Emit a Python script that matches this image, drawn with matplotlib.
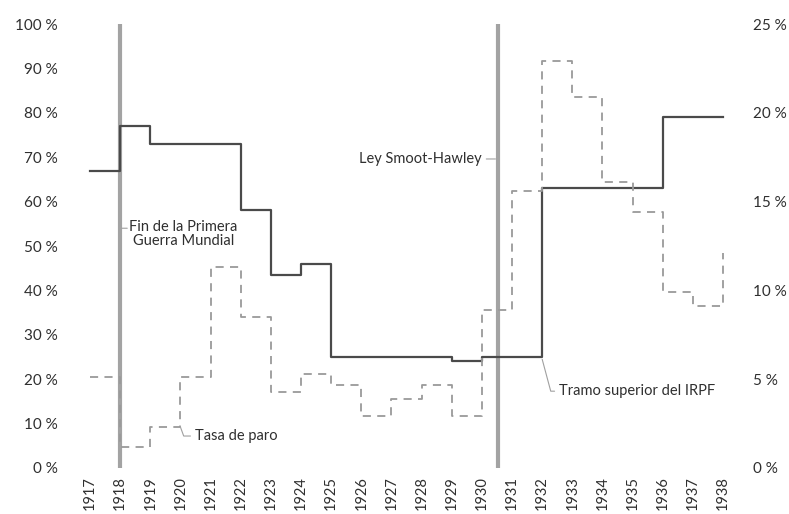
import matplotlib.pyplot as plt

plt.rcParams['font.family'] = ['Lato', 'DejaVu Sans']

years = list(range(1917, 1939))
# tramo superior del IRPF (eje izquierdo, %)
irpf = [67, 77, 73, 73, 73, 58, 43.5, 46, 25, 25, 25, 25, 24, 25, 25,
        63, 63, 63, 63, 79, 79, 79]
# tasa de paro (eje derecho, %)
paro = [5.1, 1.2, 2.3, 5.1, 11.3, 8.5, 4.3, 5.3, 4.7, 2.9, 3.9, 4.7, 2.9,
        8.9, 15.6, 22.9, 20.9, 16.1, 14.4, 9.9, 9.1, 12.1]

eventos = [1918, 1930.55]
left_ticks = [0, 10, 20, 30, 40, 50, 60, 70, 80, 90, 100]
right_ticks = [0, 5, 10, 15, 20, 25]

txt = '#2f2f2f'
fig = plt.figure(figsize=(7.89, 5.14), dpi=100)
ax = fig.add_axes([0.1084, 0.0895, 0.8137, 0.8638])
ax2 = ax.twinx()

for x in eventos:
    ax.plot([x, x], [-0.5, 100], color='#a3a3a3', lw=3.0, zorder=1,
            solid_capstyle='butt')

ax.step(years, irpf, where='post', color='#4a4a4a', lw=1.6, zorder=3)
ax2.step(years, paro, where='post', color='#9a9a9a', lw=1.3,
         linestyle=(0, (4.5, 3.5)), zorder=2)

ax.set_xlim(1916.85, 1938.15)
ax.set_ylim(0, 100)
ax2.set_ylim(0, 25)

ax.set_xticks(years)
ax.set_xticklabels([str(y) for y in years], rotation=90)
ax.set_yticks(left_ticks)
ax.set_yticklabels([f'{v} %' for v in left_ticks])
ax2.set_yticks(right_ticks)
ax2.set_yticklabels([f'{v} %' for v in right_ticks])

for a in (ax, ax2):
    for s in a.spines.values():
        s.set_visible(False)
    a.tick_params(length=0, labelsize=11, colors=txt)
ax.tick_params(axis='y', pad=20)
ax.tick_params(axis='x', pad=6, labelsize=10.5)
ax2.tick_params(axis='y', pad=18)

lead = dict(arrowstyle='-', color='#a0a0a0', lw=0.8, shrinkA=1, shrinkB=0)

# Fin de la Primera Guerra Mundial
ax.annotate('', xy=(1918.05, 54), xytext=(1918.28, 54), arrowprops=lead)
ax.text(1918.3, 55.8, 'Fin de la Primera\nGuerra Mundial', ha='left',
        va='top', multialignment='center', fontsize=10.5, color=txt,
        linespacing=1.0)

# Ley Smoot-Hawley
ax.annotate('', xy=(1930.45, 69.6), xytext=(1930.1, 69.6), arrowprops=lead)
ax.text(1930.0, 69.6, 'Ley Smoot-Hawley', ha='right', va='center',
        fontsize=10.5, color=txt)

# Tasa de paro
ax2.annotate('Tasa de paro', xy=(1920.0, 2.3), xytext=(1920.47, 1.8),
             ha='left', va='center', fontsize=10.5, color=txt,
             arrowprops=dict(lead, connectionstyle='angle,angleA=180,angleB=-70,rad=0'))

# Tramo superior del IRPF
ax.annotate('Tramo superior del IRPF', xy=(1932.0, 24.5),
            xytext=(1932.55, 17.3), ha='left', va='center', fontsize=10.5,
            color=txt,
            arrowprops=dict(lead, connectionstyle='angle,angleA=180,angleB=-75,rad=0'))

fig.savefig('out.png', dpi=100)
